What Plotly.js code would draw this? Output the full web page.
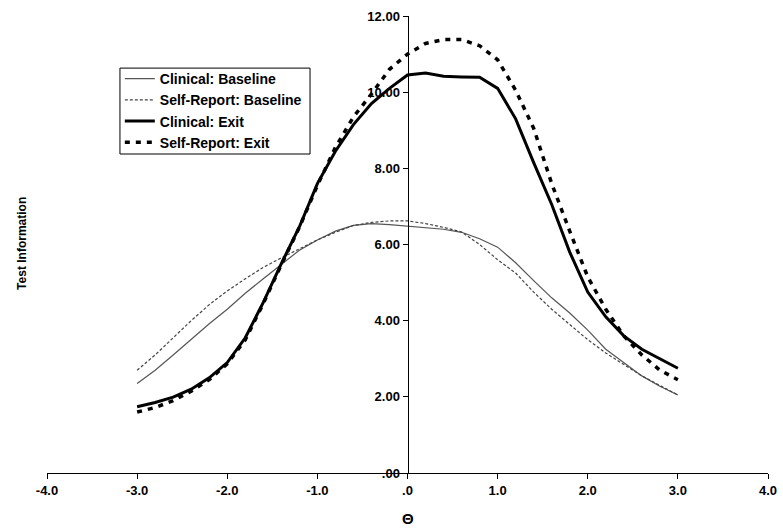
<!DOCTYPE html>
<html>
<head>
<meta charset="utf-8">
<script src="https://cdn.plot.ly/plotly-3.0.1.min.js"></script>
<style>html,body{margin:0;padding:0;background:#fff;}#chart{width:783px;height:531px;}</style>
</head>
<body>
<div id="chart"></div>
<script>
const theta = [-3.0,-2.8,-2.6,-2.4,-2.2,-2.0,-1.8,-1.6,-1.4,-1.2,-1.0,-0.8,-0.6,-0.4,-0.2,0.0,0.2,0.4,0.6,0.8,1.0,1.2,1.4,1.6,1.8,2.0,2.2,2.4,2.6,2.8,3.0];
const clinicalBaseline = [2.35,2.7,3.1,3.52,3.92,4.3,4.72,5.1,5.48,5.85,6.12,6.35,6.5,6.55,6.52,6.48,6.43,6.4,6.32,6.15,5.93,5.52,5.05,4.6,4.2,3.75,3.25,2.9,2.55,2.28,2.05];
const selfReportBaseline = [2.7,3.1,3.55,4.0,4.42,4.78,5.1,5.4,5.65,5.88,6.12,6.32,6.5,6.58,6.62,6.62,6.55,6.45,6.33,6.0,5.6,5.25,4.75,4.3,3.9,3.5,3.15,2.85,2.55,2.3,2.05];
const clinicalExit = [1.74,1.85,1.99,2.2,2.5,2.9,3.55,4.48,5.5,6.46,7.6,8.45,9.15,9.7,10.1,10.45,10.5,10.42,10.4,10.39,10.1,9.3,8.15,7.05,5.8,4.75,4.1,3.6,3.25,3.0,2.75];
const selfReportExit = [1.6,1.72,1.9,2.15,2.45,2.87,3.5,4.45,5.47,6.45,7.55,8.55,9.35,9.95,10.6,11.0,11.28,11.38,11.38,11.22,10.85,10.05,9.05,7.6,6.35,5.15,4.3,3.6,3.1,2.7,2.45];

const seriesNames = ["Clinical: Baseline","Self-Report: Baseline","Clinical: Exit","Self-Report: Exit"];
const xTickVals = [-4,-3,-2,-1,0,1,2,3,4];
const xTickText = ["-4.0","-3.0","-2.0","-1.0",".0","1.0","2.0","3.0","4.0"];
const yTickVals = [0,2,4,6,8,10,12];
const yTickText = [".00","2.00","4.00","6.00","8.00","10.00","12.00"];

const FONT = "Liberation Sans, Arial, sans-serif";

const traces = [
  {x: theta, y: clinicalBaseline, name: seriesNames[0], mode: "lines",
   line: {color: "#555555", width: 1.2}},
  {x: theta, y: selfReportBaseline, name: seriesNames[1], mode: "lines",
   line: {color: "#444444", width: 1.2, dash: "3px,2px"}},
  {x: theta, y: clinicalExit, name: seriesNames[2], mode: "lines",
   line: {color: "#000000", width: 3}},
  {x: theta, y: selfReportExit, name: seriesNames[3], mode: "lines",
   line: {color: "#000000", width: 3.5, dash: "5px,6px"}}
];

const layout = {
  width: 783, height: 531,
  margin: {l: 47, r: 15, t: 16, b: 58},
  paper_bgcolor: "#ffffff", plot_bgcolor: "#ffffff",
  font: {family: FONT, color: "#000000", size: 13, weight: "bold"},
  showlegend: true,
  legend: {
    x: 0.101, y: 0.897, xanchor: "left", yanchor: "top",
    borderwidth: 0, bgcolor: "rgba(0,0,0,0)",
    font: {family: FONT, size: 14, color: "#000000", weight: "bold"},
    itemwidth: 30
  },
  shapes: [
    {type: "rect", xref: "paper", yref: "paper", x0: 0.1012, x1: 0.3648, y0: 0.698, y1: 0.886,
     line: {color: "#000000", width: 1}, fillcolor: "rgba(0,0,0,0)", layer: "above"}
  ],
  xaxis: {
    range: [-4, 4], tickvals: xTickVals, ticktext: xTickText,
    showgrid: false, zeroline: false, showline: true, linecolor: "#000000", linewidth: 1,
    ticks: "outside", ticklen: 5, tickcolor: "#000000",
    tickfont: {family: FONT, size: 13, weight: "bold"}
  },
  yaxis: {
    range: [0, 12], tickvals: yTickVals, ticktext: yTickText,
    anchor: "free", position: 0.5,
    showgrid: false, zeroline: false, showline: true, linecolor: "#000000", linewidth: 1,
    ticks: "outside", ticklen: 5, tickcolor: "#000000",
    tickfont: {family: FONT, size: 13, weight: "bold"}
  },
  annotations: [
    {text: "Test Information", xref: "paper", yref: "paper", x: -0.035, y: 0.503,
     textangle: -90, showarrow: false, xanchor: "center", yanchor: "middle",
     font: {family: FONT, size: 12, weight: "bold"}},
    {text: "Θ", xref: "paper", yref: "paper", x: 0.5, y: -0.1,
     showarrow: false, xanchor: "center", yanchor: "middle",
     font: {family: FONT, size: 15, weight: "bold"}}
  ]
};

Plotly.newPlot("chart", traces, layout, {displayModeBar: false, staticPlot: true});
</script>
</body>
</html>
